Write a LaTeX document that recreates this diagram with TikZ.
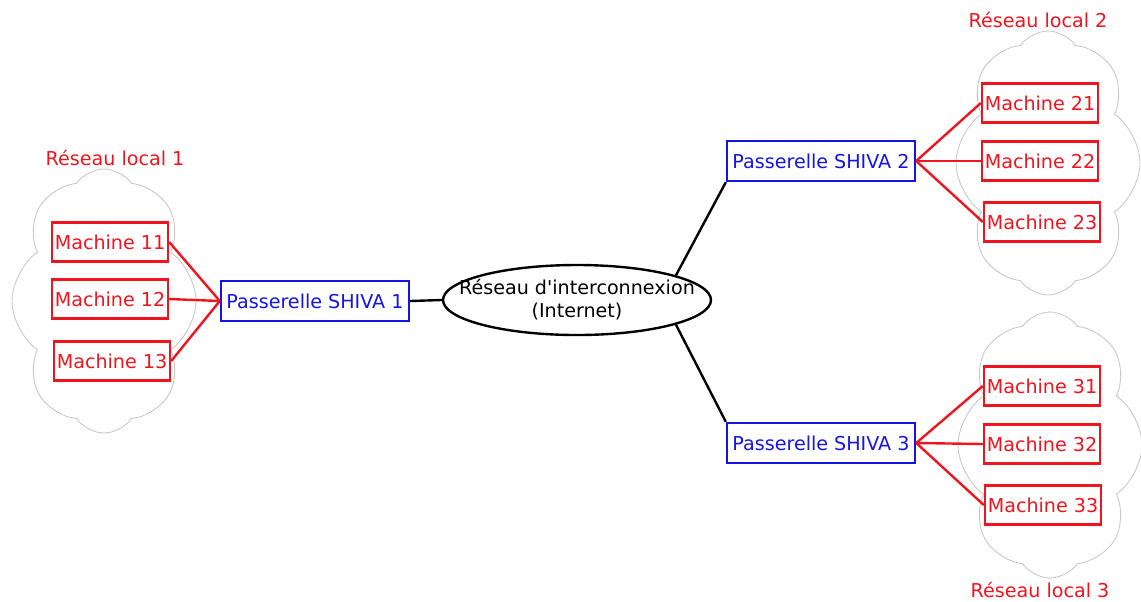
\documentclass[tikz,border=0pt]{standalone}
\usepackage{fontspec}
\setmainfont{DejaVu Sans}
\usepackage{xcolor}
\usepackage{tikz}
\usetikzlibrary{positioning,shapes.geometric,shapes.symbols}
\definecolor{rougeres}{RGB}{240,20,30}
\definecolor{bleupass}{RGB}{20,20,230}

\begin{document}
\begin{tikzpicture}[
	% Style des machines du réseau local
	machine/.style={
		draw=rougeres,
		line width=1.7pt,
		text=rougeres,
		minimum width=2.9cm,
		minimum height=0.98cm,
		inner sep=1pt
	},
	% Style des passerelles
	passerelle/.style={
		draw=bleupass,
		line width=1.7pt,
		text=bleupass,
		minimum width=4.7cm,
		minimum height=1cm,
		inner sep=1pt
	},
	% Nuage d'un réseau local
	nuage/.style={
		cloud, cloud puffs=8, cloud puff arc=110, cloud ignores aspect,
		draw=gray!45,
		line width=0.6pt
	},
	lien/.style={draw=rougeres, line width=1.7pt},
	liaison/.style={draw=black, line width=1.7pt},
	titre/.style={text=rougeres},
	font=\fontsize{13.6}{16.5}\selectfont
	]
	\useasboundingbox (0,0) rectangle (28.525,-15.025);

	% Les trois nuages
	\node[nuage, minimum width=4.6cm, minimum height=6.6cm] (c1) at (2.6,-7.525) {};
	\node[nuage, minimum width=4.6cm, minimum height=6.6cm] (c2) at (26.2,-4.075) {};
	\node[nuage, minimum width=4.6cm, minimum height=6.65cm] (c3) at (26.25,-11.125) {};

	\node[titre] (t1) at (2.875,-3.95) {Réseau local 1};
	\node[titre] (t2) at (25.95,-0.5) {Réseau local 2};
	\node[titre] (t3) at (26,-14.75) {Réseau local 3};

	% Réseau d'interconnexion
	\node[ellipse, liaison, minimum width=6.7cm, minimum height=1.75cm, inner xsep=-0.7cm, inner ysep=0pt, align=center] (inter) at (14.425,-7.5)
		{Réseau d\textquotesingle interconnexion\\(Internet)};

	% Passerelles
	\node[passerelle] (p1) at (7.875,-7.525) {Passerelle SHIVA 1};
	\node[passerelle] (p2) at (20.525,-4.025) {Passerelle SHIVA 2};
	\node[passerelle] (p3) at (20.525,-11.075) {Passerelle SHIVA 3};

	% Machines
	\node[machine] (m11) at (2.75,-6.05)  {Machine 11};
	\node[machine] (m12) at (2.75,-7.475) {Machine 12};
	\node[machine] (m13) at (2.8,-9.025)  {Machine 13};

	\node[machine] (m21) at (26,-2.575)    {Machine 21};
	\node[machine] (m22) at (26,-4.025)    {Machine 22};
	\node[machine] (m23) at (26.05,-5.55)  {Machine 23};

	\node[machine] (m31) at (26.05,-9.65)  {Machine 31};
	\node[machine] (m32) at (26.05,-11.1)  {Machine 32};
	\node[machine] (m33) at (26.075,-12.625) {Machine 33};

	% Liaisons vers Internet
	\draw[liaison] (p1.east) -- (inter.west);
	\draw[liaison] (inter.14) -- (p2.south west);
	\draw[liaison] (inter.-14) -- (p3.north west);

	% Liaisons locales
	\draw[lien] (m11.east) -- (p1.west);
	\draw[lien] (m12.east) -- (p1.west);
	\draw[lien] (m13.east) -- (p1.west);
	\draw[lien] (p2.east) -- (m21.west);
	\draw[lien] (p2.east) -- (m22.west);
	\draw[lien] (p2.east) -- (m23.west);
	\draw[lien] (p3.east) -- (m31.west);
	\draw[lien] (p3.east) -- (m32.west);
	\draw[lien] (p3.east) -- (m33.west);
\end{tikzpicture}
\end{document}
